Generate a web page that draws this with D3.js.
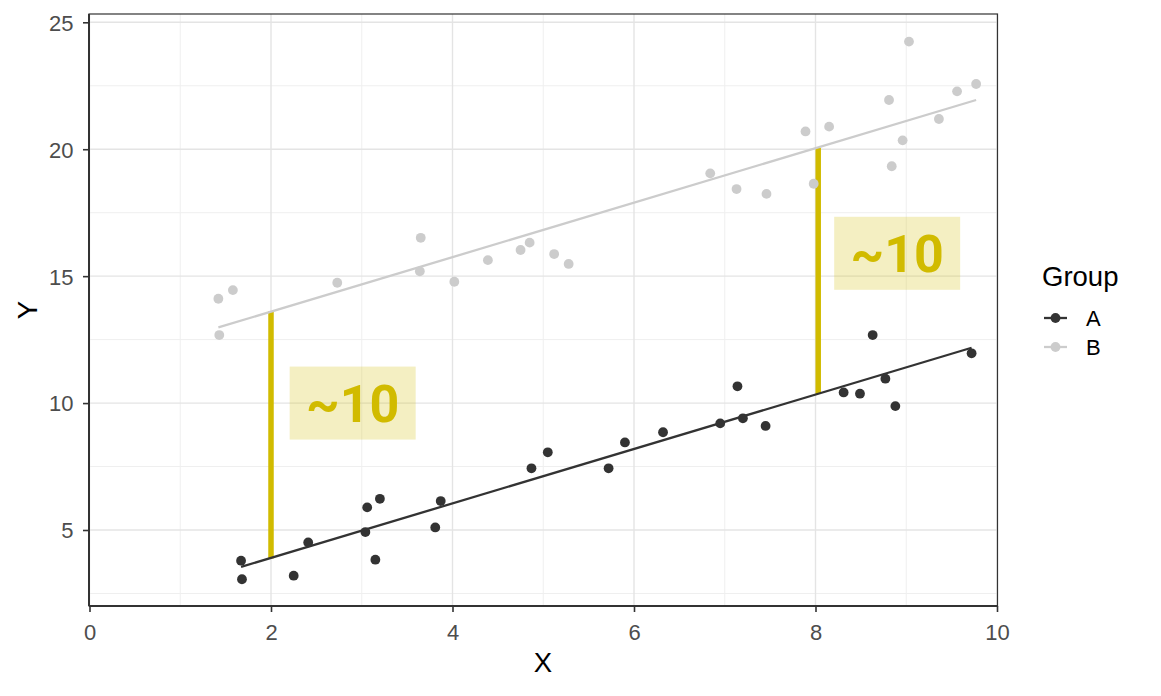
<!DOCTYPE html>
<html><head><meta charset="utf-8">
<script src="https://cdn.jsdelivr.net/npm/d3@7"></script>
<style>body{margin:0;background:#fff}svg{display:block}</style>
</head><body><svg id="c" width="1161" height="696"></svg>
<script>
// ---- data ----
const groups = ["A", "B"];
const aX = [1.67,1.68,2.25,2.41,3.06,3.20,3.04,3.15,3.81,3.87,4.87,5.05,5.72,5.90,6.32,6.95,7.20,7.14,7.45,8.31,8.49,8.63,8.77,8.88,9.72];
const aY = [3.79,3.06,3.20,4.51,5.89,6.23,4.92,3.83,5.10,6.14,7.43,8.06,7.43,8.45,8.85,9.20,9.40,10.66,9.10,10.42,10.37,12.68,10.96,9.88,11.96];
const bX = [1.42,1.58,2.73,3.65,3.64,4.02,4.39,4.75,4.85,1.43,5.12,5.28,6.84,7.13,7.46,7.89,7.98,8.15,8.81,8.84,8.96,9.03,9.36,9.56,9.77];
const bY = [14.11,14.45,14.74,16.51,15.19,14.78,15.63,16.03,16.32,12.68,15.87,15.48,19.05,18.43,18.24,20.70,18.64,20.89,21.94,19.33,20.35,24.24,21.19,22.28,22.57];
// fitted line end points
const fitAX = [1.67, 9.72], fitAY = [3.55, 12.18];
const fitBX = [1.42, 9.77], fitBY = [12.98, 21.94];
// gap segments
const gapX = [2.0, 8.03], gapLow = [3.88, 10.36], gapHigh = [13.62, 20.06];
// gap labels
const labelX = [2.9, 8.9], labelY = [10.0, 15.9], labelText = ["~10", "~10"];
// ticks
const xTicks = [0,2,4,6,8,10], xMinor = [1,3,5,7,9];
const yTicks = [5,10,15,20,25], yMinor = [2.5,7.5,12.5,17.5,22.5];

const colA = "#333333", colB = "#cccccc", yel = "#d1bb00";
const svg = d3.select("#c");
const L = 89, R = 997.5, T = 14, B = 606;
const x = d3.scaleLinear().domain([0,10]).range([89.5,997]);
const y = d3.scaleLinear().domain([5,25]).range([530,22.3]);

svg.append("rect").attr("x",L).attr("y",T).attr("width",R-L).attr("height",B-T).attr("fill","#fff");
const g = svg.append("g");
// grid
g.selectAll(".xm").data(xMinor).join("line").attr("x1",d=>x(d)).attr("x2",d=>x(d)).attr("y1",T).attr("y2",B).attr("stroke","#efefef").attr("stroke-width",1);
g.selectAll(".ym").data(yMinor).join("line").attr("y1",d=>y(d)).attr("y2",d=>y(d)).attr("x1",L).attr("x2",R).attr("stroke","#efefef").attr("stroke-width",1);
g.selectAll(".xM").data(xTicks).join("line").attr("x1",d=>x(d)).attr("x2",d=>x(d)).attr("y1",T).attr("y2",B).attr("stroke","#e4e4e4").attr("stroke-width",1.4);
g.selectAll(".yM").data(yTicks).join("line").attr("y1",d=>y(d)).attr("y2",d=>y(d)).attr("x1",L).attr("x2",R).attr("stroke","#e4e4e4").attr("stroke-width",1.4);

// gap segments
g.selectAll(".gap").data(gapX).join("line")
  .attr("x1",d=>x(d)).attr("x2",d=>x(d))
  .attr("y1",(d,i)=>y(gapLow[i])).attr("y2",(d,i)=>y(gapHigh[i]))
  .attr("stroke",yel).attr("stroke-width",5.5);

// fit lines
const line = d3.line().x(d=>x(d[0])).y(d=>y(d[1]));
g.append("path").attr("d",line(fitBX.map((v,i)=>[v,fitBY[i]]))).attr("stroke",colB).attr("stroke-width",2.3).attr("fill","none");
g.append("path").attr("d",line(fitAX.map((v,i)=>[v,fitAY[i]]))).attr("stroke",colA).attr("stroke-width",2.3).attr("fill","none");

// points
g.selectAll(".pb").data(bX).join("circle").attr("cx",d=>x(d)).attr("cy",(d,i)=>y(bY[i])).attr("r",4.9).attr("fill",colB);
g.selectAll(".pa").data(aX).join("circle").attr("cx",d=>x(d)).attr("cy",(d,i)=>y(aY[i])).attr("r",4.9).attr("fill",colA);

// labels
const lab = g.selectAll(".lab").data(labelX).join("g").attr("transform",(d,i)=>`translate(${x(d)},${y(labelY[i])})`);
lab.append("rect").attr("x",-63).attr("y",-36.5).attr("width",126).attr("height",73).attr("fill",yel).attr("fill-opacity",0.24);
lab.append("text").text((d,i)=>labelText[i]).attr("text-anchor","middle").attr("y",18.5)
  .attr("font-family","Roboto").attr("font-weight",700).attr("font-size",52).attr("fill",yel);

// border
svg.append("rect").attr("x",L).attr("y",T).attr("width",R-L).attr("height",B-T).attr("fill","none").attr("stroke","#333").attr("stroke-width",1.2);
svg.append("line").attr("x1",L).attr("x2",R).attr("y1",B).attr("y2",B).attr("stroke","#333").attr("stroke-width",2);
svg.append("line").attr("x1",L).attr("x2",L).attr("y1",T).attr("y2",B).attr("stroke","#333").attr("stroke-width",2);

// axes
const font = "Liberation Sans, Arial, sans-serif";
const xa = svg.append("g").attr("transform",`translate(0,${B})`).call(d3.axisBottom(x).tickValues(xTicks).tickSize(6).tickFormat(d3.format("d")));
const ya = svg.append("g").attr("transform",`translate(${L},0)`).call(d3.axisLeft(y).tickValues(yTicks).tickSize(6).tickFormat(d3.format("d")));
[xa,ya].forEach(a=>{a.select(".domain").remove();a.selectAll("line").attr("stroke","#333").attr("stroke-width",1.6);
  a.selectAll("text").attr("font-family",font).attr("font-size",22).attr("fill","#4d4d4d");});
xa.selectAll("text").attr("dy",null).attr("y",34);
ya.selectAll("text").attr("x",-15.5).attr("dy","0.36em");

svg.append("text").text("X").attr("x",543).attr("y",672).attr("text-anchor","middle").attr("font-family",font).attr("font-size",27.5).attr("fill","#000");
svg.append("text").text("Y").attr("transform","translate(37,310) rotate(-90)").attr("text-anchor","middle").attr("font-family",font).attr("font-size",27.5).attr("fill","#000");

// legend
const lg = svg.append("g");
lg.append("text").text("Group").attr("x",1042).attr("y",286).attr("font-family",font).attr("font-size",27.5).attr("fill","#000");
const items = lg.selectAll(".it").data(groups).join("g").attr("transform",(d,i)=>`translate(0,${318+i*29})`);
items.append("line").attr("x1",1044).attr("x2",1067).attr("stroke",(d,i)=>i?colB:colA).attr("stroke-width",2.3);
items.append("circle").attr("cx",1055.5).attr("r",4.9).attr("fill",(d,i)=>i?colB:colA);
items.append("text").text(d=>d).attr("x",1086).attr("y",8).attr("font-family",font).attr("font-size",22).attr("fill","#000");
</script></body></html>
